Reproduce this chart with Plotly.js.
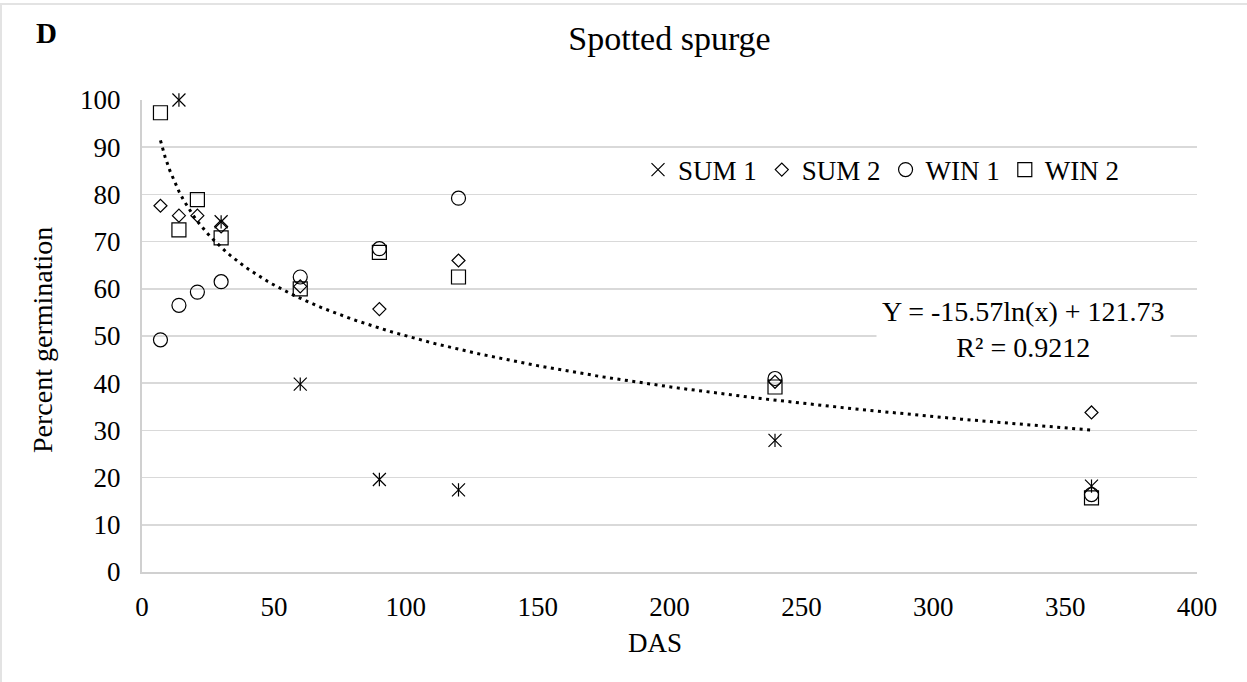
<!DOCTYPE html>
<html>
<head>
<meta charset="utf-8">
<script src="https://cdn.plot.ly/plotly-3.0.1.min.js"></script>
<style>
  html, body { margin: 0; padding: 0; background: #ffffff; }
  #frame { position: absolute; left: 0; top: 3px; width: 1247px; height: 679px; box-sizing: border-box;
           border-left: 2px solid #e3e3e3; border-top: 2px solid #e3e3e3; }
  #chart { position: absolute; left: 0; top: 0; width: 1247px; height: 682px; }
</style>
</head>
<body>
<div id="frame"></div>
<div id="chart"></div>
<script>
// ---- data ----
const chartTitle = "Spotted spurge";
const panelLabel = "D";
const xTitle = "DAS";
const yTitle = "Percent germination";

const sum1X = [14, 30, 60, 90, 120, 240, 360];
const sum1Y = [100, 74.2, 39.8, 19.6, 17.4, 27.9, 18.2];

const sum2X = [7, 14, 21, 30, 60, 90, 120, 240, 360];
const sum2Y = [77.6, 75.5, 75.5, 73.2, 60.5, 55.7, 66.0, 40.3, 33.8];

const win1X = [7, 14, 21, 30, 60, 90, 120, 240, 360];
const win1Y = [49.2, 56.5, 59.3, 61.5, 62.5, 68.5, 79.2, 41.0, 16.4];

const win2X = [7, 14, 21, 30, 60, 90, 120, 240, 360];
const win2Y = [97.3, 72.5, 78.9, 70.8, 60.0, 67.7, 62.5, 39.2, 15.7];

// logarithmic trendline as printed on the chart
const trendSlope = -15.57;
const trendIntercept = 121.73;
const trendR2 = 0.9212;
const trendXStart = 7;
const trendXEnd = 360;

// ---- build ----
const FONT = "Liberation Serif, Times New Roman, serif";
const trendX = [], trendY = [];
for (let i = 0; i <= 200; i++) {
  const x = trendXStart + (trendXEnd - trendXStart) * i / 200;
  trendX.push(x);
  trendY.push(trendSlope * Math.log(x) + trendIntercept);
}

const traces = [
  { x: trendX, y: trendY, mode: 'lines', name: 'trend', showlegend: false, hoverinfo: 'skip',
    line: { color: '#000000', width: 3, dash: '3px,4.5px' } },
  { x: sum1X, y: sum1Y, mode: 'markers', name: 'SUM 1', legendgroup: 's1',
    marker: { symbol: 'x-thin', size: 13, color: '#000000', line: { color: '#000000', width: 1.2 } } },
  { x: sum1X, y: sum1Y, mode: 'markers', name: 'SUM 1', legendgroup: 's1', showlegend: false,
    marker: { symbol: 'line-ns', size: 9.5, color: '#000000', line: { color: '#000000', width: 1.2 } } },
  { x: sum2X, y: sum2Y, mode: 'markers', name: 'SUM 2',
    marker: { symbol: 'diamond-open', size: 10, color: '#000000', line: { color: '#000000', width: 1.2 } } },
  { x: win1X, y: win1Y, mode: 'markers', name: 'WIN 1',
    marker: { symbol: 'circle-open', size: 14, color: '#000000', line: { color: '#000000', width: 1.2 } } },
  { x: win2X, y: win2Y, mode: 'markers', name: 'WIN 2',
    marker: { symbol: 'square-open', size: 14, color: '#000000', line: { color: '#000000', width: 1.2 } } }
];
traces.forEach(t => { if (t.mode === 'markers') t.cliponaxis = false; });

const plotL = 142, plotR = 1197, plotT = 100, plotB = 572;
const pw = plotR - plotL, ph = plotB - plotT;
const px = v => (v - plotL) / pw;
const py = v => (plotB - v) / ph;

const layout = {
  width: 1247, height: 682,
  margin: { l: plotL, r: 1247 - plotR, t: plotT, b: 682 - plotB, pad: 0 },
  paper_bgcolor: 'rgba(0,0,0,0)',
  plot_bgcolor: '#ffffff',
  font: { family: FONT, size: 27, color: '#000000' },
  title: { text: chartTitle, font: { family: FONT, size: 34, color: '#000000' },
           x: 0.5, xref: 'paper', y: 1 - 38 / 682, yref: 'container', yanchor: 'middle', xanchor: 'center' },
  xaxis: {
    range: [0, 400], dtick: 50, tick0: 0, showgrid: false, zeroline: false,
    showline: true, linecolor: '#d0d0d0', linewidth: 2,
    ticks: '', ticklabelstandoff: 10,
    tickfont: { family: FONT, size: 27, color: '#000000' }
  },
  yaxis: {
    range: [0, 100], dtick: 10, tick0: 0, showgrid: true, gridcolor: '#d9d9d9', gridwidth: 1.6,
    zeroline: false, showline: true, linecolor: '#d0d0d0', linewidth: 2,
    ticks: '', ticklabelstandoff: 14,
    tickfont: { family: FONT, size: 27, color: '#000000' }
  },
  showlegend: true,
  legend: {
    orientation: 'h', x: px(638), xanchor: 'left', y: py(170), yanchor: 'middle',
    font: { family: FONT, size: 27, color: '#000000' }, bgcolor: 'rgba(0,0,0,0)',
    itemsizing: 'trace', traceorder: 'normal'
  },
  annotations: [
    { text: '<b>' + panelLabel + '</b>', xref: 'paper', yref: 'paper', x: px(46), y: py(33),
      xanchor: 'center', yanchor: 'middle', showarrow: false,
      font: { family: FONT, size: 29, color: '#000000' } },
    { text: xTitle, xref: 'paper', yref: 'paper', x: px(655), y: py(643),
      xanchor: 'center', yanchor: 'middle', showarrow: false,
      font: { family: FONT, size: 27, color: '#000000' } },
    { text: yTitle, xref: 'paper', yref: 'paper', x: px(42), y: py(340), textangle: -90,
      xanchor: 'center', yanchor: 'middle', showarrow: false,
      font: { family: FONT, size: 28, color: '#000000' } },
    { text: 'Y = ' + trendSlope.toFixed(2) + 'ln(x) + ' + trendIntercept.toFixed(2) + '<br>R² = ' + trendR2.toFixed(4),
      xref: 'paper', yref: 'paper', x: px(1023), y: py(329), xanchor: 'center', yanchor: 'middle',
      showarrow: false, align: 'center', bgcolor: '#ffffff', borderpad: 5,
      font: { family: FONT, size: 28, color: '#000000' } }
  ]
};

Plotly.newPlot('chart', traces, layout, { displayModeBar: false, staticPlot: true });
</script>
</body>
</html>
